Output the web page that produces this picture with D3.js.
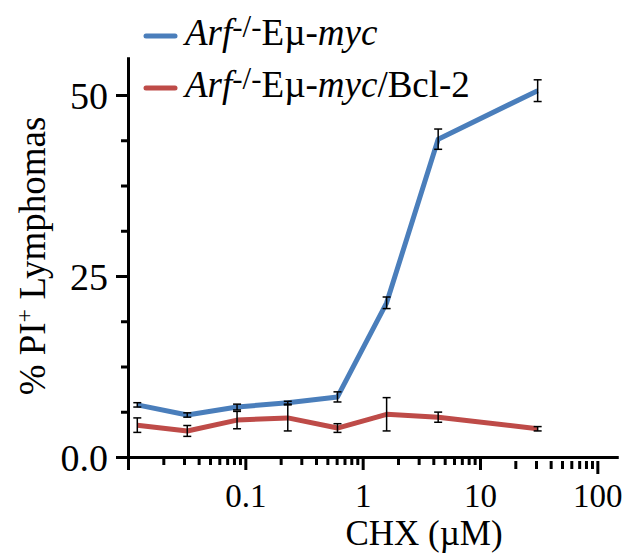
<!DOCTYPE html>
<html>
<head>
<meta charset="utf-8">
<script src="https://cdn.jsdelivr.net/npm/d3@7"></script>
<style>
	body { margin: 0; background: #fff; }
	text { font-family: "Liberation Serif", "Times New Roman", serif; fill: #000; }
</style>
</head>
<body>
<script>

let width = 626;
let height = 556;

// CHX concentrations (uM)
let doses = [0.012, 0.032, 0.085, 0.23, 0.61, 1.6, 4.4, 31];

// % PI+ lymphomas
let mycValues = [7.2, 5.8, 6.9, 7.5, 8.3, 21.3, 43.9, 50.6];
let mycErrors = [0.3, 0.3, 0.4, 0.2, 0.7, 0.8, 1.4, 1.5];
let bclValues = [4.4, 3.6, 5.1, 5.4, 4.0, 5.9, 5.5, 3.9];
let bclErrors = [1.0, 0.75, 1.2, 1.8, 0.6, 2.3, 0.7, 0.3];

let yMajor = [0, 25, 50];
let yMinor = [6.25, 12.5, 18.75, 31.25, 37.5, 43.75];
let xMajor = [0.01, 0.1, 1, 10, 100];
let xMinor = [];
[0.01, 0.1, 1, 10].forEach(dec => {
	for (let k = 2; k <= 9; k++) xMinor.push(+(dec * k).toPrecision(2));
});

let series = [
	{name: "myc", values: mycValues, errors: mycErrors, color: "#4a7ebb", bcl: false},
	{name: "bcl", values: bclValues, errors: bclErrors, color: "#be4b48", bcl: true}
];

let xScale = d3.scaleLog()
	.domain([0.01, 150])
	.range([128, 618]);

let yScale = d3.scaleLinear()
	.domain([0, 55.25])
	.range([457, 57]);

let svg = d3.select("body")
	.append("svg")
		.attr("width", width)
		.attr("height", height);

// Lines
let line = d3.line()
	.x((d, i) => xScale(doses[i]))
	.y(d => yScale(d));

series.forEach(s => {
	svg.append("path")
		.datum(s.values)
		.attr("d", line)
		.style("fill", "none")
		.style("stroke", s.color)
		.style("stroke-width", 5)
		.style("stroke-linejoin", "round");
});

// Error bars
series.forEach(s => {
	let g = svg.append("g")
		.style("stroke", "#000")
		.style("stroke-width", 1.5);
	s.values.forEach((v, i) => {
		let cx = xScale(doses[i]);
		let y0 = yScale(v - s.errors[i]);
		let y1 = yScale(v + s.errors[i]);
		g.append("line").attr("x1", cx).attr("x2", cx).attr("y1", y0).attr("y2", y1);
		g.append("line").attr("x1", cx - 4).attr("x2", cx + 4).attr("y1", y0).attr("y2", y0);
		g.append("line").attr("x1", cx - 4).attr("x2", cx + 4).attr("y1", y1).attr("y2", y1);
	});
});

// Axes
function styleAxis(g) {
	g.selectAll("path.domain").style("stroke", "#000").style("stroke-width", 3);
	g.selectAll(".tick line").style("stroke", "#000").style("stroke-width", 3);
}

let xMinorAxis = svg.append("g")
	.attr("transform", "translate(0,457)")
	.call(d3.axisBottom(xScale).tickValues(xMinor).tickSize(8).tickSizeOuter(0).tickFormat(""))
	.call(styleAxis);

let xMajorAxis = svg.append("g")
	.attr("transform", "translate(0,457)")
	.call(d3.axisBottom(xScale).tickValues(xMajor).tickSize(13).tickSizeOuter(0)
		.tickFormat(d => d === 0.01 ? "" : String(d)))
	.call(styleAxis);

// ticks past 10 sit a little lower in the original
[xMinorAxis, xMajorAxis].forEach(g => {
	g.selectAll(".tick line")
		.attr("y1", d => d > 10 ? 4 : 0)
		.attr("y2", function(d) { return +d3.select(this).attr("y2") + (d > 10 ? 4 : 0); });
});

xMajorAxis.selectAll(".tick text")
	.attr("y", 50)
	.attr("dy", null)
	.style("font-size", "33px");

let yMinorAxis = svg.append("g")
	.attr("transform", "translate(128,0)")
	.call(d3.axisLeft(yScale).tickValues(yMinor).tickSize(7).tickSizeOuter(0).tickFormat(""))
	.call(styleAxis);

let yMajorAxis = svg.append("g")
	.attr("transform", "translate(128,0)")
	.call(d3.axisLeft(yScale).tickValues(yMajor).tickSize(12).tickSizeOuter(0)
		.tickFormat(d => d === 0 ? "0.0" : String(d)))
	.call(styleAxis);

yMajorAxis.selectAll(".tick text")
	.attr("x", -20)
	.attr("dy", "0.36em")
	.style("font-size", "38px");

// Axis titles
svg.append("text")
	.attr("x", 424)
	.attr("y", 545)
	.attr("text-anchor", "middle")
	.style("font-size", "35px")
	.text("CHX (\u00b5M)");

let yTitle = svg.append("text")
	.attr("transform", "translate(45,256) rotate(-90)")
	.attr("text-anchor", "middle")
	.style("font-size", "37px");
yTitle.append("tspan").text("% PI");
yTitle.append("tspan").attr("dy", -13).style("font-size", "24px").text("+");
yTitle.append("tspan").attr("dy", 13).text(" Lymphomas");

// Legend
let legend = svg.selectAll("g.legend")
	.data(series)
	.enter().append("g")
	.attr("class", "legend")
	.attr("transform", (d, i) => "translate(0," + (i * 52) + ")");

legend.append("line")
	.attr("x1", 146)
	.attr("x2", 175)
	.attr("y1", 36)
	.attr("y2", 36)
	.style("stroke", d => d.color)
	.style("stroke-width", 5)
	.style("stroke-linecap", "round");

let label = legend.append("text")
	.attr("x", 185)
	.attr("y", 45)
	.style("font-size", "37px");
label.append("tspan").style("font-style", "italic").text("Arf");
label.append("tspan").attr("dy", -8).style("font-size", "31px").text("-/-");
label.append("tspan").attr("dy", 8).text("E\u00b5-");
label.append("tspan").style("font-style", "italic").text("myc");
label.filter(d => d.bcl).append("tspan").text("/Bcl-2");

</script>
</body>
</html>
